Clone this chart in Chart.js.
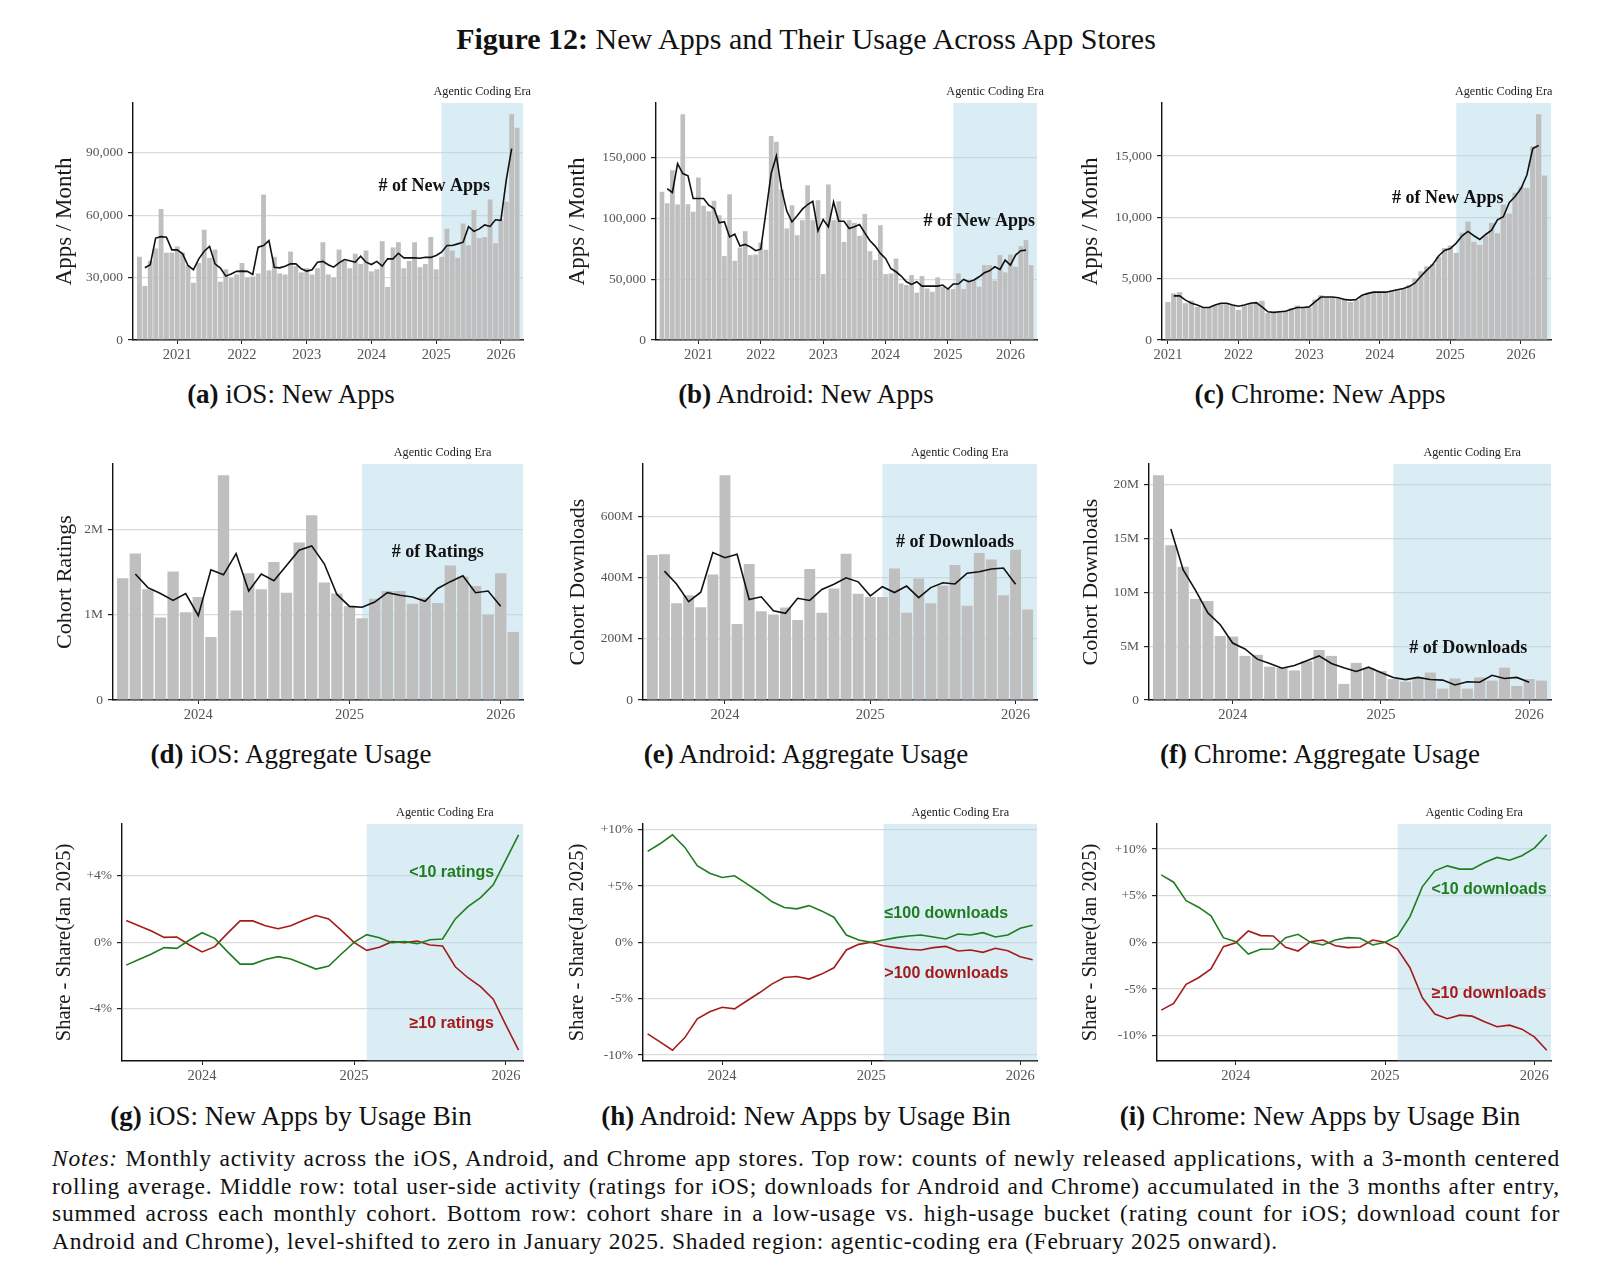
<!DOCTYPE html>
<html>
<head>
<meta charset="utf-8">
<script src="https://cdn.jsdelivr.net/npm/chart.js@4.4.1/dist/chart.umd.min.js"></script>
<style>
  body { margin: 0; background: #fff; }
  #page { position: relative; width: 1620px; height: 1288px; font-family: "Liberation Serif", serif; color: #111; overflow: hidden; }
  #page canvas { position: absolute; }
  .txt { position: absolute; transform: translate(-50%, -50%); white-space: nowrap; }
  .title { font-size: 30px; }
  .sub { font-size: 27px; }
  #notes { position: absolute; left: 52px; top: 1145px; width: 1508px; font-size: 23.5px; line-height: 27.7px; letter-spacing: 0.75px; }
  #notes .line { white-space: nowrap; }
</style>
</head>
<body>
<div id="page">
  <div class="txt title" style="left:806px; top:39px;"><b>Figure 12:</b> New Apps and Their Usage Across App Stores</div>

  <div class="txt sub" style="left:291px; top:394px;"><b>(a)</b> iOS: New Apps</div>
  <div class="txt sub" style="left:806px; top:394px;"><b>(b)</b> Android: New Apps</div>
  <div class="txt sub" style="left:1320px; top:394px;"><b>(c)</b> Chrome: New Apps</div>
  <div class="txt sub" style="left:291px; top:754px;"><b>(d)</b> iOS: Aggregate Usage</div>
  <div class="txt sub" style="left:806px; top:754px;"><b>(e)</b> Android: Aggregate Usage</div>
  <div class="txt sub" style="left:1320px; top:754px;"><b>(f)</b> Chrome: Aggregate Usage</div>
  <div class="txt sub" style="left:291px; top:1116px;"><b>(g)</b> iOS: New Apps by Usage Bin</div>
  <div class="txt sub" style="left:806px; top:1116px;"><b>(h)</b> Android: New Apps by Usage Bin</div>
  <div class="txt sub" style="left:1320px; top:1116px;"><b>(i)</b> Chrome: New Apps by Usage Bin</div>

  <div id="notes">
    <div class="line just"><span><i>Notes:</i> Monthly activity across the iOS, Android, and Chrome app stores. Top row: counts of newly released applications, with a 3-month centered</span></div>
    <div class="line just"><span>rolling average. Middle row: total user-side activity (ratings for iOS; downloads for Android and Chrome) accumulated in the 3 months after entry,</span></div>
    <div class="line just"><span>summed across each monthly cohort. Bottom row: cohort share in a low-usage vs. high-usage bucket (rating count for iOS; download count for</span></div>
    <div class="line"><span>Android and Chrome), level-shifted to zero in January 2025. Shaded region: agentic-coding era (February 2025 onward).</span></div>
  </div>
</div>

<script>
const SERIF = "'Liberation Serif', serif";
const SANS = "'Liberation Sans', Arial, sans-serif";

// x positions are month indexes: 0 = Jan 2020
const agenticStart = 61; // Feb 2025
const topYears = [2021, 2022, 2023, 2024, 2025, 2026];
const usageYears = [2024, 2025, 2026];

// --- top row: new apps per month (bars) + 3-month centered average (line) ---
const iosNewStart = 5; // Jun 2020
const iosNewApps = [40000, 26000, 38000, 44000, 63000, 42000, 42000, 45000, 42000, 36000, 27500, 37000, 53000, 39500, 43500, 28000, 34000, 30000, 31500, 37000,
  30000, 30500, 32000, 70000, 33500, 40000, 32000, 31500, 42500, 35500, 32500, 34500, 31500, 34500, 47000, 31500, 30000, 43500, 38000, 34500,
  41500, 36500, 43000, 33000, 34000, 47500, 25500, 44500, 47000, 34500, 38000, 47000, 35000, 36500, 49500, 34000, 40000, 53500, 43000, 39500,
  56000, 45500, 62500, 49000, 49500, 67500, 46500, 58000, 66500, 108500, 102000];
const iosNewAvg = [34700, 36200, 49000, 49700, 49400, 43300, 43300, 41400, 35800, 33800, 39000, 42700, 45000, 36600, 34600, 30700, 31700, 33000, 33100, 33000,
  31500, 44600, 45400, 47800, 35000, 34700, 35500, 36600, 36600, 34200, 33100, 33800, 37400, 37800, 36200, 35000, 37100, 38700, 38100, 37400,
  40300, 37400, 36300, 37800, 35500, 39000, 39000, 41700, 39500, 39500, 39500, 39300, 39800, 39700, 40600, 42200, 45400, 45400, 46200, 47000,
  54500, 52200, 53400, 55300, 54600, 57800, 57500, 77000, 92000];

const androidNewStart = 5; // Jun 2020
const androidNewApps = [122000, 112500, 139600, 111400, 185600, 111700, 105400, 133600, 110300, 105900, 114400, 102600, 69000, 119900, 65100, 76000, 89500, 69800, 70300, 80200,
  74200, 167800, 163100, 123700, 91700, 110800, 86200, 98500, 127300, 98500, 115000, 54200, 127800, 98500, 114000, 80700, 98500, 96300, 85700, 103700,
  73000, 65700, 94400, 54200, 54700, 67000, 46500, 45200, 53400, 38900, 52600, 42400, 39700, 51500, 43800, 42400, 41900, 54700, 41900, 49300,
  49000, 43800, 61600, 61600, 48700, 69800, 55600, 70300, 60200, 77200, 82100, 61600];
const androidNewAvg = [124500, 121300, 145000, 136900, 135000, 116300, 116300, 116300, 110800, 108100, 96300, 97200, 84800, 87000, 77200, 78600, 76600, 73400, 74700, 105400,
  136900, 151400, 124000, 106000, 97200, 102100, 107600, 111400, 114100, 89800, 99100, 93100, 113600, 97700, 97700, 91700, 93100, 95000, 88100, 81600,
  77200, 71200, 67100, 58800, 56100, 52600, 47900, 45700, 47900, 44300, 44300, 44300, 44300, 45200, 41900, 46000, 46000, 49800, 47900, 49300,
  52000, 55300, 56900, 60200, 58000, 65700, 61600, 69800, 73400, 73900];

const chromeNewStart = 12; // Jan 2021
const chromeNewApps = [3100, 3800, 3900, 3000, 3200, 2700, 2600, 2700, 2850, 3000, 3000, 2850, 2450, 2800, 3000, 3100, 3200, 2200, 2200, 2300,
  2400, 2600, 2800, 2600, 2650, 3300, 3650, 3500, 3500, 3400, 3400, 3100, 3250, 3600, 3800, 3950, 3950, 3950, 4000, 4150,
  4200, 4500, 5000, 5600, 6000, 6200, 6800, 7500, 7700, 7100, 8750, 9650, 8000, 7750, 8500, 9550, 8700, 11050, 10300, 12000,
  12500, 12400, 15800, 18400, 13400];
const chromeNewAvg = [3600, 3600, 3250, 3000, 2850, 2650, 2650, 2850, 3000, 3000, 2850, 2750, 2850, 3000, 3050, 2700, 2300, 2250, 2300, 2350,
  2500, 2650, 2650, 2700, 3100, 3500, 3500, 3500, 3450, 3300, 3250, 3300, 3650, 3800, 3900, 3900, 3900, 4000, 4100, 4200,
  4350, 4650, 5200, 5700, 6150, 6850, 7300, 7450, 7900, 8500, 8850, 8500, 8200, 8600, 8950, 9800, 10050, 11200, 11700, 12350,
  13450, 15600, 15850];

// --- middle row: cohort usage in the 3 months after entry (millions) ---
const usageStart = 42; // Jul 2023
const iosRatings = [1.43, 1.72, 1.30, 0.97, 1.51, 1.03, 1.21, 0.74, 2.64, 1.05, 1.49, 1.30, 1.62, 1.26, 1.85, 2.17,
  1.38, 1.25, 1.10, 0.96, 1.19, 1.28, 1.28, 1.13, 1.20, 1.14, 1.58, 1.45, 1.34, 1.00, 1.49, 0.80];
const iosRatingsAvg = [1.48, 1.32, 1.25, 1.17, 1.25, 0.99, 1.53, 1.47, 1.72, 1.28, 1.48, 1.40, 1.58, 1.76, 1.81,
  1.60, 1.24, 1.10, 1.09, 1.15, 1.26, 1.23, 1.21, 1.16, 1.31, 1.39, 1.46, 1.26, 1.28, 1.10];
const androidDownloads = [475, 477, 317, 343, 304, 411, 736, 249, 445, 291, 280, 303, 262, 429, 286, 365,
  479, 348, 337, 337, 431, 286, 398, 317, 374, 442, 309, 481, 460, 343, 492, 296];
const androidDownloadsAvg = [422, 380, 322, 353, 483, 466, 477, 329, 338, 292, 284, 333, 326, 362, 379,
  400, 387, 341, 371, 352, 373, 335, 368, 384, 380, 415, 420, 429, 432, 379];
const chromeDownloads = [20.9, 14.4, 12.4, 9.4, 9.2, 5.95, 5.9, 4.1, 4.2, 3.1, 3.0, 2.75, 3.6, 4.65, 4.1, 1.5,
  3.45, 2.95, 2.7, 1.95, 1.7, 2.1, 2.55, 1.05, 2.0, 1.05, 2.1, 1.8, 3.0, 1.3, 1.95, 1.8];
const chromeDownloadsAvg = [15.9, 12.1, 10.2, 8.1, 7.0, 5.3, 4.75, 3.8, 3.4, 2.95, 3.2, 3.65, 4.1, 3.4, 3.0,
  2.65, 3.05, 2.55, 2.1, 1.9, 2.1, 1.9, 1.85, 1.4, 1.7, 1.65, 2.3, 2.0, 2.1, 1.65];

// --- bottom row: share minus share(Jan 2025), percentage points ---
const iosLowShare = [-1.37, -1.03, -0.70, -0.32, -0.36, 0.14, 0.58, 0.24, -0.56, -1.31, -1.31, -1.03, -0.86, -1.00, -1.31, -1.61,
  -1.43, -0.70, 0, 0.46, 0.28, -0.02, 0.04, -0.08, 0.16, 0.20, 1.41, 2.15, 2.69, 3.46, 4.96, 6.47];
const iosHighShare = [1.31, 1.00, 0.68, 0.30, 0.32, -0.16, -0.58, -0.26, 0.54, 1.29, 1.29, 1.00, 0.82, 1.00, 1.33, 1.61,
  1.41, 0.72, 0, -0.48, -0.30, 0.04, -0.02, 0.08, -0.16, -0.22, -1.47, -2.13, -2.67, -3.42, -4.98, -6.49];
const androidLowShare = [8.07, 8.75, 9.55, 8.43, 6.80, 6.14, 5.76, 5.91, 5.19, 4.45, 3.62, 3.09, 2.97, 3.26, 2.79, 2.23,
  0.65, 0.21, 0, 0.21, 0.42, 0.56, 0.65, 0.47, 0.30, 0.74, 0.65, 0.86, 0.47, 0.65, 1.25, 1.51];
const androidHighShare = [-8.13, -8.84, -9.58, -8.46, -6.80, -6.17, -5.76, -5.91, -5.19, -4.48, -3.71, -3.12, -3.03, -3.26, -2.82, -2.26,
  -0.68, -0.18, 0, -0.30, -0.47, -0.62, -0.68, -0.47, -0.36, -0.77, -0.68, -0.89, -0.53, -0.74, -1.28, -1.54];
const chromeLowShare = [7.23, 6.44, 4.47, 3.76, 2.83, 0.50, 0.07, -1.25, -0.75, -0.72, 0.50, 0.86, 0, -0.29, 0.25, 0.50,
  0.43, -0.29, 0, 0.68, 2.75, 5.97, 7.66, 8.19, 7.84, 7.84, 8.55, 9.09, 8.80, 9.27, 10.09, 11.52];
const chromeHighShare = [-7.26, -6.54, -4.51, -3.79, -2.86, -0.47, -0.04, 1.22, 0.72, 0.68, -0.54, -0.93, 0.07, 0.25, -0.36, -0.57,
  -0.50, 0.25, 0, -0.72, -2.72, -5.94, -7.69, -8.19, -7.80, -7.91, -8.52, -9.05, -8.87, -9.30, -10.13, -11.56];

const GREEN = '#1f7d1f';
const RED = '#a51b1b';
const BAR = '#bfbfbf';

function series(start, vals) {
  return vals.map((v, i) => ({ x: start + i, y: v }));
}
function barSet(start, vals) {
  return { type: 'bar', data: series(start, vals), backgroundColor: BAR, barPercentage: 0.9, categoryPercentage: 1, order: 2 };
}
function lineSet(start, vals, color) {
  return { type: 'line', data: series(start, vals), borderColor: color || '#111', borderWidth: 1.6,
    pointRadius: 0, tension: 0, fill: false, order: 1 };
}
const monthOf = yr => (yr - 2020) * 12;

// shaded era + its caption + in-plot labels
const eraPlugin = {
  id: 'era',
  beforeDatasetsDraw(chart) {
    const { ctx, chartArea: a, scales: { x } } = chart;
    const x0 = x.getPixelForValue(agenticStart);
    ctx.save();
    ctx.fillStyle = 'rgba(173, 216, 230, 0.45)';
    ctx.fillRect(x0, a.top, a.right - x0, a.bottom - a.top - 0.5);
    ctx.restore();
  },
  afterDatasetsDraw(chart, args, opts) {
    const { ctx, chartArea: a, scales: { x, y } } = chart;
    const x0 = x.getPixelForValue(agenticStart);
    ctx.save();
    ctx.textAlign = 'center';
    ctx.textBaseline = 'middle';
    ctx.fillStyle = '#222';
    ctx.font = `12.2px ${SERIF}`;
    ctx.fillText('Agentic Coding Era', (x0 + a.right) / 2, a.top - 11);
    (opts.labels || []).forEach(l => {
      ctx.fillStyle = l.color || '#111';
      ctx.font = l.font;
      ctx.fillText(l.text, x.getPixelForValue(l.x), y.getPixelForValue(l.y));
    });
    ctx.restore();
  }
};

const page = document.getElementById('page');

function makePanel(p) {
  const left = p.colLeft, top = p.plot[1] - 30;
  const width = p.plot[2] + 12 - left, height = p.plot[3] + 28 - top;
  const yw = p.plot[0] - left;
  const cv = document.createElement('canvas');
  cv.width = width; cv.height = height;
  cv.style.left = left + 'px'; cv.style.top = top + 'px';
  cv.style.width = width + 'px'; cv.style.height = height + 'px';
  page.appendChild(cv);

  const titleSize = p.yTitleSize || 21;
  new Chart(cv, {
    type: p.type,
    data: { datasets: p.datasets },
    plugins: [eraPlugin],
    options: {
      responsive: false,
      animation: false,
      layout: { padding: { top: 30, right: 12, left: 0, bottom: 0 } },
      plugins: { legend: { display: false }, tooltip: { enabled: false }, era: { labels: p.labels } },
      scales: {
        x: {
          type: 'linear', min: p.xRange[0], max: p.xRange[1], offset: false,
          afterBuildTicks: s => { s.ticks = p.years.map(yr => ({ value: monthOf(yr) })); },
          ticks: { callback: v => String(2020 + Math.round(v / 12)), color: '#555', font: { family: SERIF, size: 14.5 },
            padding: 2, maxRotation: 0, autoSkip: false },
          grid: { drawOnChartArea: false, drawTicks: true, tickLength: 4, tickColor: '#222', offset: false },
          border: { display: true, color: '#111', width: 1.4 },
          afterFit: s => { s.height = 28; s.paddingLeft = 0; s.paddingRight = 0; }
        },
        y: {
          min: p.yRange[0], max: p.yRange[1],
          afterBuildTicks: s => { s.ticks = p.yTicks.map(v => ({ value: v })); },
          ticks: { callback: p.yFormat, color: '#555', font: { family: SERIF, size: 13.5 }, padding: 5 },
          grid: { color: '#dadada', lineWidth: 1.2, drawTicks: true, tickLength: 5, tickColor: '#222' },
          border: { display: true, color: '#111', width: 1.4 },
          title: { display: true, text: p.yTitle, color: '#1a1a1a', font: { family: SERIF, size: titleSize },
            padding: { top: 20 - titleSize * 0.6, bottom: 0 } },
          afterFit: s => { s.width = yw; s.paddingTop = 0; s.paddingBottom = 0; }
        }
      }
    }
  });
}

const COLS = [45, 558, 1071];
const commaFmt = v => v.toLocaleString('en-US');
const mFmt = v => (v === 0 ? '0' : v + 'M');
const pctFmt = v => (v > 0 ? '+' + v + '%' : v + '%');
const barMax = vals => Math.max(...vals) * 1.05;
const symRange = (a, b) => {
  const lo = Math.min(...a, ...b), hi = Math.max(...a, ...b), pad = (hi - lo) * 0.05;
  return [lo - pad, hi + pad];
};
const boldSerif = `bold 18px ${SERIF}`;
const boldSans = `bold 16px ${SANS}`;

// top row
makePanel({ colLeft: COLS[0], plot: [133, 103, 523, 340], type: 'bar', xRange: [3.8, 76.1], years: topYears,
  yRange: [0, barMax(iosNewApps)], yTicks: [0, 30000, 60000, 90000], yFormat: commaFmt, yTitle: 'Apps / Month', yTitleSize: 23,
  datasets: [barSet(iosNewStart, iosNewApps), lineSet(iosNewStart + 1, iosNewAvg)],
  labels: [{ x: 59.65, y: 74000, text: '# of New Apps', font: boldSerif }] });
makePanel({ colLeft: COLS[1], plot: [656, 103, 1037, 340], type: 'bar', xRange: [3.85, 77.12], years: topYears,
  yRange: [0, barMax(androidNewApps)], yTicks: [0, 50000, 100000, 150000], yFormat: commaFmt, yTitle: 'Apps / Month', yTitleSize: 23,
  datasets: [barSet(androidNewStart, androidNewApps), lineSet(androidNewStart + 1, androidNewAvg)],
  labels: [{ x: 66.0, y: 97700, text: '# of New Apps', font: boldSerif }] });
makePanel({ colLeft: COLS[2], plot: [1162, 103, 1551, 340], type: 'bar', xRange: [11.0, 77.1], years: topYears,
  yRange: [0, barMax(chromeNewApps)], yTicks: [0, 5000, 10000, 15000], yFormat: commaFmt, yTitle: 'Apps / Month', yTitleSize: 23,
  datasets: [barSet(chromeNewStart, chromeNewApps), lineSet(chromeNewStart + 1, chromeNewAvg)],
  labels: [{ x: 59.57, y: 11550, text: '# of New Apps', font: boldSerif }] });

// middle row
makePanel({ colLeft: COLS[0], plot: [113, 464, 523, 700], type: 'bar', xRange: [41.23, 73.77], years: usageYears,
  yRange: [0, barMax(iosRatings)], yTicks: [0, 1, 2], yFormat: mFmt, yTitle: 'Cohort Ratings', yTitleSize: 22,
  datasets: [barSet(usageStart, iosRatings), lineSet(usageStart + 1, iosRatingsAvg)],
  labels: [{ x: 67.0, y: 1.734, text: '# of Ratings', font: boldSerif }] });
makePanel({ colLeft: COLS[1], plot: [643, 464, 1037, 700], type: 'bar', xRange: [41.23, 73.77], years: usageYears,
  yRange: [0, barMax(androidDownloads)], yTicks: [0, 200, 400, 600], yFormat: mFmt, yTitle: 'Cohort Downloads', yTitleSize: 22,
  datasets: [barSet(usageStart, androidDownloads), lineSet(usageStart + 1, androidDownloadsAvg)],
  labels: [{ x: 67.0, y: 516, text: '# of Downloads', font: boldSerif }] });
makePanel({ colLeft: COLS[2], plot: [1149, 464, 1551, 700], type: 'bar', xRange: [41.23, 73.77], years: usageYears,
  yRange: [0, barMax(chromeDownloads)], yTicks: [0, 5, 10, 15, 20], yFormat: mFmt, yTitle: 'Cohort Downloads', yTitleSize: 22,
  datasets: [barSet(usageStart, chromeDownloads), lineSet(usageStart + 1, chromeDownloadsAvg)],
  labels: [{ x: 67.07, y: 4.81, text: '# of Downloads', font: boldSerif }] });

// bottom row
makePanel({ colLeft: COLS[0], plot: [122, 824, 523, 1061], type: 'line', xRange: [41.67, 73.35], years: usageYears,
  yRange: symRange(iosLowShare, iosHighShare), yTicks: [-4, 0, 4], yFormat: pctFmt, yTitle: 'Share - Share(Jan 2025)', yTitleSize: 20.5,
  datasets: [lineSet(usageStart, iosLowShare, GREEN), lineSet(usageStart, iosHighShare, RED)],
  labels: [{ x: 67.72, y: 4.2, text: '<10 ratings', font: boldSans, color: GREEN },
           { x: 67.72, y: -4.88, text: '\u226510 ratings', font: boldSans, color: RED }] });
makePanel({ colLeft: COLS[1], plot: [643, 824, 1037, 1061], type: 'line', xRange: [41.63, 73.35], years: usageYears,
  yRange: symRange(androidLowShare, androidHighShare), yTicks: [-10, -5, 0, 5, 10], yFormat: pctFmt, yTitle: 'Share - Share(Jan 2025)', yTitleSize: 20.5,
  datasets: [lineSet(usageStart, androidLowShare, GREEN), lineSet(usageStart, androidHighShare, RED)],
  labels: [{ x: 66.05, y: 2.58, text: '\u2264100 downloads', font: boldSans, color: GREEN },
           { x: 66.05, y: -2.82, text: '>100 downloads', font: boldSans, color: RED }] });
makePanel({ colLeft: COLS[2], plot: [1157, 824, 1551, 1061], type: 'line', xRange: [41.66, 73.34], years: usageYears,
  yRange: symRange(chromeLowShare, chromeHighShare), yTicks: [-10, -5, 0, 5, 10], yFormat: pctFmt, yTitle: 'Share - Share(Jan 2025)', yTitleSize: 20.5,
  datasets: [lineSet(usageStart, chromeLowShare, GREEN), lineSet(usageStart, chromeHighShare, RED)],
  labels: [{ x: 68.36, y: 5.61, text: '<10 downloads', font: boldSans, color: GREEN },
           { x: 68.36, y: -5.47, text: '\u226510 downloads', font: boldSans, color: RED }] });

// justify the notes lines by spreading the leftover width over the word gaps
document.querySelectorAll('#notes .just').forEach(line => {
  const span = line.querySelector('span');
  const gaps = span.textContent.trim().split(/\s+/).length - 1;
  const extra = 1508 - span.getBoundingClientRect().width;
  span.style.wordSpacing = (extra / gaps) + 'px';
});
</script>
</body>
</html>
